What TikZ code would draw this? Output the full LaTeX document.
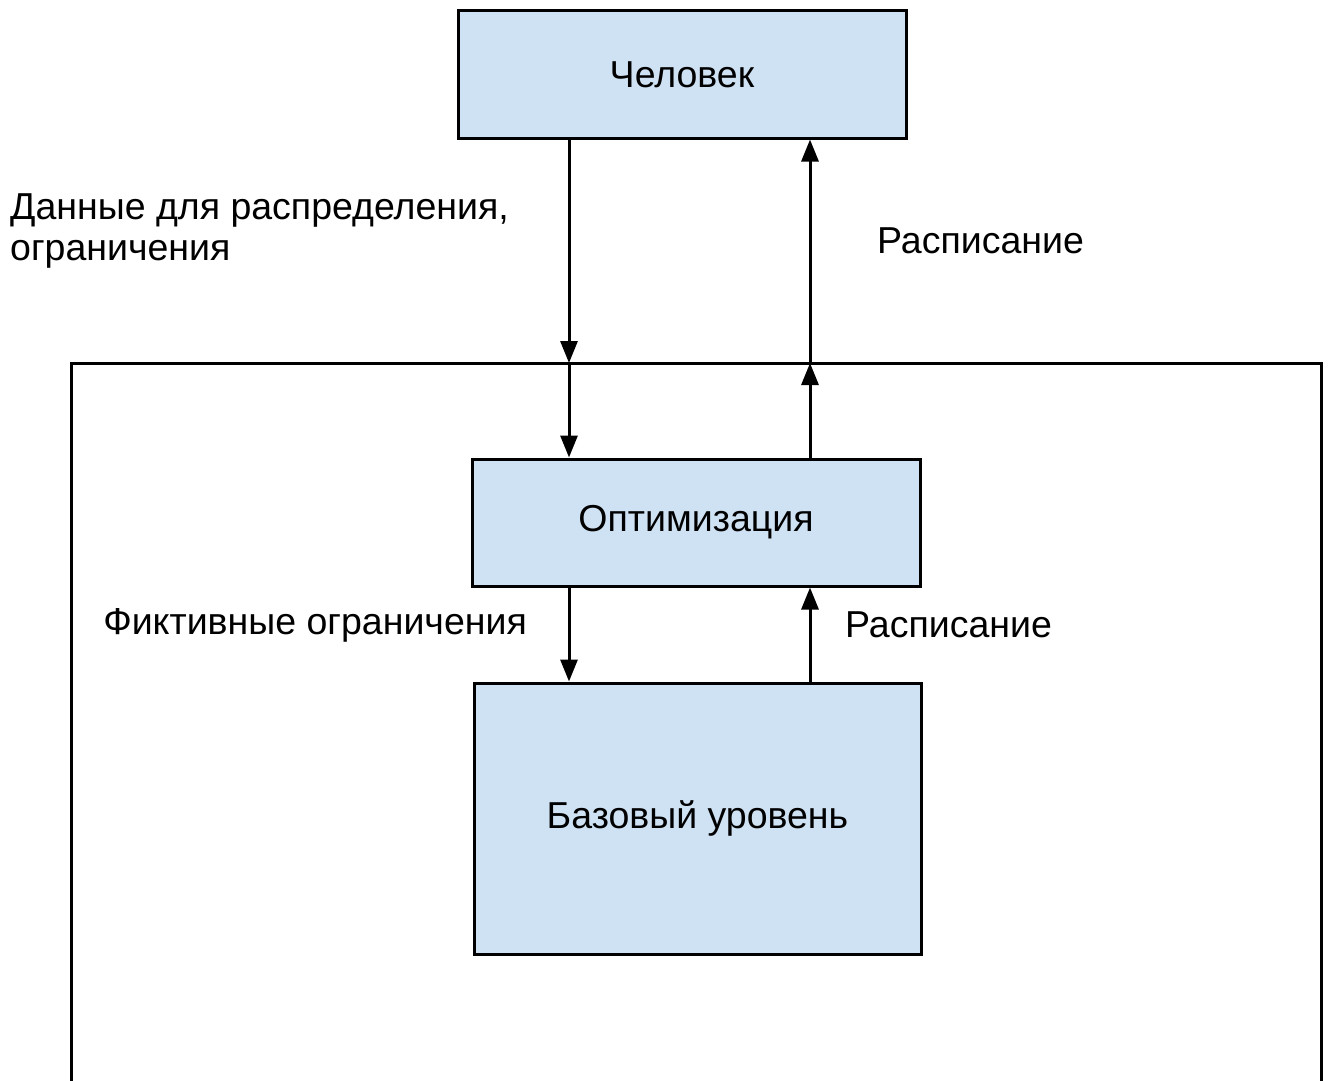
\documentclass[tikz,border=0pt]{standalone}
\usepackage{fontspec}
\setmainfont{Liberation Sans}
\usetikzlibrary{arrows.meta,positioning}

\definecolor{boxblue}{HTML}{CFE2F3}

\begin{document}
\begin{tikzpicture}[
  x=1pt, y=-1pt,
  font=\fontsize{37.5}{41}\selectfont,
  box/.style={draw, line width=3pt, fill=boxblue, minimum width=448pt,
    inner sep=0pt, align=center},
  lbl/.style={inner sep=0pt, align=left},
  arr/.style={-{Triangle[length=22pt, width=17pt]}, line width=3pt}]
\useasboundingbox (0,0) rectangle (1328,1081);
% outer frame
\draw[line width=3pt] (71,363) rectangle (1321,1082);
\node[box, minimum height=127pt] (human) at (682,74.5) {Человек};
\node[box, minimum height=127pt] (opt) at (696,522.5) {Оптимизация};
\node[box, minimum height=271pt, minimum width=447pt] (base) at (697.5,818.5) {Базовый уровень};
% crossing points on the frame
\coordinate (inL) at (569,363);
\coordinate (inR) at (810,363);
\draw[arr] (human.south -| inL) -- (inL);
\draw[arr] (inL) -- (opt.north -| inL);
\draw[arr] (opt.north -| inR) -- (inR);
\draw[arr] (inR) -- (human.south -| inR);
\draw[arr] (opt.south -| inL) -- (base.north -| inL);
\draw[arr] (base.north -| inR) -- (opt.south -| inR);
% labels
\node[lbl, anchor=west] (data) at (10,231) {Данные для распределения,\\ограничения};
\node[lbl, anchor=west] (sched1) at (877,241) {Расписание};
\node[lbl, anchor=east] (fict) at (527,625) {Фиктивные ограничения};
\node[lbl, anchor=west] (sched2) at (845,625) {Расписание};
\end{tikzpicture}
\end{document}
